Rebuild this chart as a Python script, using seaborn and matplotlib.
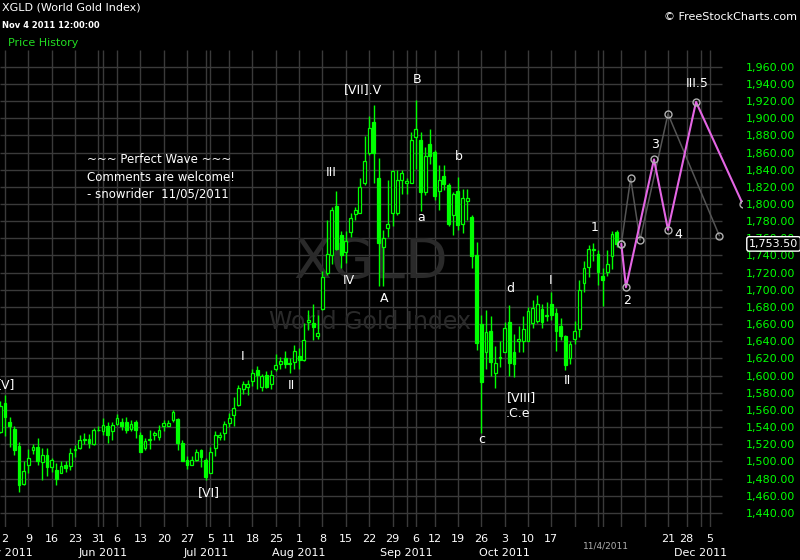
import numpy as np
import pandas as pd
import matplotlib
matplotlib.use("Agg")
import matplotlib.pyplot as plt
import matplotlib.transforms as mtrans
import seaborn as sns

day = list(range(-1, 132))
opens = [1534, 1568, 1546, 1538, 1518, 1474, 1496, 1513, 1517, 1499, 1507, 1494, 1490, 1486, 1496, 1495,
         1514, 1516, 1525, 1526, 1520, 1537, 1535, 1541, 1535, 1544, 1546, 1546, 1538, 1546, 1531, 1516,
         1525, 1531, 1529, 1541, 1541, 1548, 1549, 1522, 1502, 1496, 1502, 1513, 1502, 1487, 1516, 1529,
         1533, 1545, 1554, 1566, 1584, 1587, 1594, 1606, 1587, 1601, 1590, 1608, 1613, 1620, 1613, 1616,
         1623, 1618, 1662, 1661, 1646, 1678, 1719, 1740, 1798, 1764, 1744, 1767, 1788, 1790, 1825, 1859,
         1896, 1830, 1750, 1772, 1789, 1789, 1828, 1825, 1825, 1878, 1875, 1814, 1870, 1861, 1815, 1833,
         1822, 1787, 1815, 1777, 1804, 1785, 1740, 1660, 1627, 1652, 1603, 1620, 1628, 1662, 1628, 1640,
         1640, 1640, 1661, 1664, 1678, 1669, 1684, 1673, 1658, 1646, 1620, 1643, 1654, 1708, 1727, 1746,
         1742, 1716, 1721, 1739, 1767]
highs = [1570, 1577, 1552, 1541, 1523, 1500, 1514, 1520, 1527, 1516, 1516, 1504, 1498, 1501, 1500, 1516,
         1519, 1531, 1533, 1532, 1539, 1541, 1550, 1546, 1546, 1555, 1550, 1552, 1548, 1548, 1534, 1527,
         1537, 1535, 1542, 1548, 1548, 1560, 1551, 1525, 1506, 1506, 1514, 1514, 1504, 1517, 1535, 1534,
         1547, 1556, 1575, 1589, 1594, 1595, 1608, 1611, 1602, 1605, 1607, 1625, 1622, 1629, 1621, 1636,
         1632, 1661, 1676, 1683, 1671, 1722, 1781, 1797, 1815, 1768, 1768, 1789, 1797, 1830, 1879, 1903,
         1915, 1854, 1770, 1828, 1840, 1840, 1840, 1830, 1884, 1921, 1884, 1867, 1887, 1863, 1845, 1845,
         1824, 1814, 1832, 1817, 1818, 1787, 1756, 1671, 1676, 1669, 1634, 1640, 1662, 1682, 1649, 1658,
         1669, 1680, 1688, 1694, 1683, 1686, 1697, 1679, 1667, 1647, 1640, 1664, 1711, 1733, 1752, 1754,
         1746, 1725, 1746, 1769, 1770]
lows = [1533, 1530, 1517, 1507, 1464, 1472, 1486, 1509, 1496, 1478, 1483, 1488, 1472, 1486, 1488, 1490,
        1505, 1515, 1520, 1516, 1519, 1535, 1531, 1521, 1525, 1542, 1537, 1533, 1535, 1527, 1511, 1513,
        1514, 1525, 1525, 1535, 1541, 1546, 1513, 1500, 1491, 1496, 1501, 1494, 1478, 1486, 1506, 1525,
        1525, 1540, 1541, 1564, 1579, 1577, 1588, 1584, 1582, 1585, 1584, 1605, 1608, 1609, 1603, 1608,
        1608, 1617, 1653, 1642, 1643, 1677, 1717, 1730, 1746, 1725, 1731, 1762, 1781, 1789, 1822, 1857,
        1825, 1704, 1704, 1762, 1774, 1787, 1812, 1812, 1824, 1841, 1792, 1810, 1847, 1805, 1793, 1816,
        1774, 1764, 1770, 1766, 1781, 1725, 1630, 1533, 1608, 1600, 1586, 1610, 1628, 1599, 1598, 1628,
        1628, 1640, 1655, 1661, 1655, 1664, 1665, 1629, 1641, 1606, 1614, 1637, 1645, 1698, 1715, 1733,
        1706, 1681, 1716, 1724, 1750]
closes = [1564, 1552, 1541, 1513, 1473, 1489, 1504, 1517, 1500, 1507, 1494, 1502, 1480, 1495, 1492, 1510,
          1513, 1525, 1526, 1522, 1537, 1536, 1542, 1531, 1542, 1550, 1541, 1537, 1544, 1537, 1511, 1524,
          1526, 1533, 1537, 1545, 1545, 1558, 1522, 1500, 1496, 1502, 1511, 1505, 1482, 1511, 1531, 1531,
          1543, 1550, 1562, 1586, 1590, 1590, 1603, 1601, 1599, 1587, 1601, 1612, 1617, 1614, 1615, 1629,
          1618, 1642, 1665, 1657, 1650, 1715, 1742, 1793, 1748, 1741, 1757, 1784, 1793, 1820, 1850, 1889,
          1859, 1755, 1760, 1777, 1838, 1828, 1836, 1827, 1875, 1887, 1814, 1856, 1856, 1809, 1828, 1823,
          1777, 1812, 1776, 1807, 1807, 1739, 1638, 1593, 1651, 1616, 1615, 1622, 1656, 1615, 1613, 1643,
          1654, 1675, 1679, 1683, 1662, 1671, 1671, 1652, 1646, 1612, 1637, 1652, 1700, 1725, 1747, 1748,
          1721, 1711, 1730, 1765, 1753.5]

# two projected wave paths drawn after the last bar
gray_day = [132, 134, 136, 142, 153]
gray_px = [1753.5, 1830, 1758, 1905, 1763]
pink_day = [132, 133, 139, 142, 148, 158]
pink_px = [1753.5, 1703, 1852, 1770, 1919, 1800]

# wave count labels
wave_text = ["[V]", "[VI]", "I", "II", "III", "IV", "[VII].V", "A", "B", "a", "b", "c", "d",
             "[VIII]", ".C.e", "I", "II", "1", "2", "3", "4", "III.5"]
wave_day = [0.2, 43.7, 50.8, 61.3, 69.8, 73.7, 76.7, 81.2, 88.2, 89.1, 97.2, 102.2, 108.2,
            110.7, 109.9, 116.9, 120.4, 126.2, 133.2, 139.2, 144.3, 148.2]
wave_px = [1589, 1464, 1622, 1588, 1837, 1711, 1933, 1690, 1945, 1784, 1855, 1525, 1702,
           1575, 1556, 1711, 1594, 1773, 1687, 1869, 1764, 1940]

# x axis: day-of-month ticks, month names, extra grid days
tick_days = [0, 5, 10, 15, 20, 24, 29, 34, 39, 44, 48, 53, 58, 63, 68, 73, 78, 83, 88, 92, 97,
             102, 107, 112, 117, 142, 146, 151]
tick_text = ["2", "9", "16", "23", "31", "6", "13", "20", "27", "5", "11", "18", "25", "1", "8",
             "15", "22", "29", "6", "12", "19", "26", "3", "10", "17", "21", "28", "5"]
month_days = [0, 21, 43, 63, 86, 107, 149]
month_text = ["May 2011", "Jun 2011", "Jul 2011", "Aug 2011", "Sep 2011", "Oct 2011", "Dec 2011"]
extra_grid = [21, 43, 86, 122, 127, 128, 132, 137, 149]
price_ticks = list(range(1440, 1961, 20))

GREEN = "#00ff00"
GRID = "#3a3a3a"

sns.set_style("dark", {"axes.facecolor": "black", "figure.facecolor": "black",
                       "axes.edgecolor": "black", "text.color": "white"})
plt.rcParams["font.family"] = ["DejaVu Sans"]

fig = plt.figure(figsize=(8, 5.6), dpi=100)
ax = fig.add_axes([0, 0.0589, 0.9275, 0.8518])
ax.set_xlim(-1.07, 157.85)
ax.set_ylim(1423.5, 1979.5)

# grid
ax.hlines(price_ticks, -1.07, 153.6, color=GRID, lw=1, zorder=0)
ax.vlines(tick_days + extra_grid, 1423.5, 1979.5, color=GRID, lw=1, zorder=0)

# watermark
ax.text(0.5, 0.553, "XGLD", transform=ax.transAxes, ha="center", va="center",
        fontsize=40, color="#2a2a2a", zorder=0.5)
ax.text(0.498, 0.43, "World Gold Index", transform=ax.transAxes, ha="center", va="center",
        fontsize=17, color="#2a2a2a", zorder=0.5)

# candles
df = pd.DataFrame({"day": day, "open": opens, "high": highs, "low": lows, "close": closes})
df["lo"] = df[["open", "close"]].min(axis=1)
df["h"] = (df["close"] - df["open"]).abs().clip(lower=0.9)
up = df["close"] >= df["open"]
ax.vlines(df["day"], df["low"], df["high"], color=GREEN, lw=1, zorder=2)
ax.bar(df.loc[up, "day"], df.loc[up, "h"], bottom=df.loc[up, "lo"], width=0.6,
       facecolor="black", edgecolor=GREEN, lw=0.9, zorder=3)
ax.bar(df.loc[~up, "day"], df.loc[~up, "h"], bottom=df.loc[~up, "lo"], width=0.6,
       facecolor=GREEN, edgecolor=GREEN, lw=0.9, zorder=3)

# projections
sns.lineplot(x=gray_day, y=gray_px, ax=ax, color="#555555", lw=1.1, estimator=None, sort=False,
             marker="o", markersize=5, markerfacecolor="none", markeredgecolor="#b0b0b0",
             markeredgewidth=1, zorder=4)
sns.lineplot(x=pink_day, y=pink_px, ax=ax, color="#e466e4", lw=1.5, estimator=None, sort=False,
             marker="o", markersize=5, markerfacecolor="none", markeredgecolor="#b0b0b0",
             markeredgewidth=1, zorder=5)

for t, d, p in zip(wave_text, wave_day, wave_px):
    ax.text(d, p, t, color="white", fontsize=9, ha="center", va="center", zorder=6)

ax.text(17.5, 1852, "~~~ Perfect Wave ~~~", color="white", fontsize=8.5, va="center", zorder=6)
ax.text(17.5, 1830.5, "Comments are welcome!", color="white", fontsize=8.5, va="center", zorder=6)
ax.text(17.5, 1811.5, "- snowrider  11/05/2011", color="white", fontsize=8.5, va="center", zorder=6)

# axes ticks
ax.yaxis.tick_right()
ax.set_yticks(price_ticks)
ax.set_yticklabels([f"{v:,.2f}" for v in price_ticks])
ax.set_xticks(tick_days)
ax.set_xticklabels(tick_text)
ax.tick_params(axis="y", length=0, pad=3, labelsize=8, labelcolor=GREEN)
ax.tick_params(axis="x", length=0, pad=5, labelsize=8, labelcolor="white")
ax.grid(False)
for s in ax.spines.values():
    s.set_visible(False)

tr = mtrans.blended_transform_factory(ax.transData, ax.transAxes)
for d, t in zip(month_days, month_text):
    ax.text(d, -0.0545, t, transform=tr, ha="center", va="center", fontsize=8, color="white",
            clip_on=False)
ax.text(128.7, -0.0398, "11/4/2011", transform=tr, ha="center", va="center", fontsize=6.5,
        color="#b0b0b0", clip_on=False)

# last price box
trp = mtrans.blended_transform_factory(ax.transAxes, ax.transData)
ax.text(1.0 + 7 / 742, closes[-1], f"{closes[-1]:,.2f}", transform=trp, ha="left", va="center",
        fontsize=8, color="white", clip_on=False, zorder=7,
        bbox=dict(boxstyle="round,pad=0.2", fc="black", ec="white", lw=1))

# header text
fig.text(2 / 800, 1 - 8 / 560, "XGLD (World Gold Index)", fontsize=8, color="white", va="center")
fig.text(2 / 800, 1 - 26 / 560, "Nov 4 2011 12:00:00", fontsize=6, color="white", va="center",
         fontweight="bold")
fig.text(8 / 800, 1 - 43 / 560, "Price History", fontsize=8, color="#22dd22", va="center")
fig.text(797 / 800, 1 - 17 / 560, "\u00a9 FreeStockCharts.com", fontsize=8, color="white",
         va="center", ha="right")

fig.savefig("out.png", dpi=100, facecolor="black")
